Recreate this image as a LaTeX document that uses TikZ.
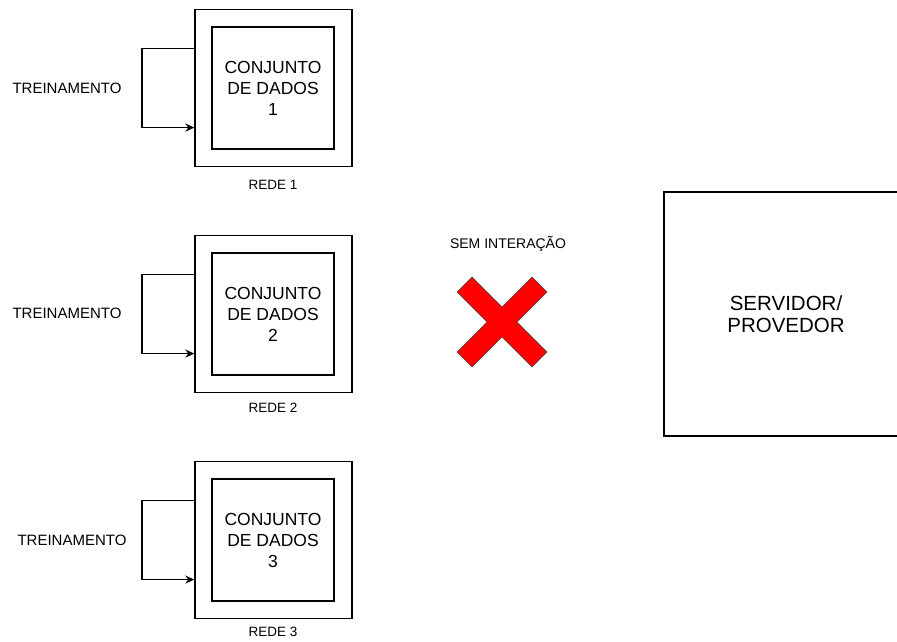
\documentclass[tikz,border=0pt]{standalone}
\usepackage{fontspec}
\setmainfont{Liberation Sans}
\usetikzlibrary{calc,arrows.meta}
\tikzset{
  outerbox/.style={draw, line width=1.3pt, minimum width=157pt, minimum height=157pt, inner sep=0pt},
  innerbox/.style={draw, line width=1.3pt, minimum width=122pt, minimum height=122pt, inner sep=0pt, align=center, font=\fontsize{17.5}{21}\selectfont},
  lbl/.style={font=\fontsize{15}{18}\selectfont, inner sep=0pt},
  rede/.style={font=\fontsize{13.5}{16}\selectfont, inner sep=0pt},
  loopline/.style={draw, line width=1.8pt, -{Stealth[length=9pt,width=8pt]}},
  serverbox/.style={draw, line width=1.3pt, minimum width=244pt, minimum height=244pt, align=center, font=\fontsize{20.5}{22}\selectfont},
  crossmark/.style={fill=red, draw=black!70, line width=0.5pt}
}
\begin{document}
\begin{tikzpicture}[x=1pt,y=-1pt]
\useasboundingbox (0,0) rectangle (897,642);

% block 1
\node[outerbox] (o1) at (273.5,88) {};
\node[innerbox] (i1) at (273,88) {CONJUNTO\\DE DADOS\\1};
\node[lbl] (t1) at (67,88) {TREINAMENTO};
\node[rede] (r1) at (273,185) {REDE 1};
\coordinate (a1) at ($(o1.north west)!0.25!(o1.south west)$);
\coordinate (b1) at ($(o1.north west)!0.75!(o1.south west)$);
\path[loopline] (a1) -- ++(-52,0) |- (b1);

% block 2
\node[outerbox] (o2) at (273.5,314) {};
\node[innerbox] (i2) at (273,314) {CONJUNTO\\DE DADOS\\2};
\node[lbl] (t2) at (67,313) {TREINAMENTO};
\node[rede] (r2) at (273,408) {REDE 2};
\coordinate (a2) at ($(o2.north west)!0.25!(o2.south west)$);
\coordinate (b2) at ($(o2.north west)!0.75!(o2.south west)$);
\path[loopline] (a2) -- ++(-52,0) |- (b2);

% block 3
\node[outerbox] (o3) at (273.5,540) {};
\node[innerbox] (i3) at (273,540) {CONJUNTO\\DE DADOS\\3};
\node[lbl] (t3) at (72,540) {TREINAMENTO};
\node[rede] (r3) at (273,632) {REDE 3};
\coordinate (a3) at ($(o3.north west)!0.25!(o3.south west)$);
\coordinate (b3) at ($(o3.north west)!0.75!(o3.south west)$);
\path[loopline] (a3) -- ++(-52,0) |- (b3);

% no interaction
\node[font=\fontsize{14}{16}\selectfont, inner sep=0pt] (sem) at (508,244) {SEM INTERAÇÃO};
\coordinate (xc) at (502,322);
\draw[crossmark] ($(xc)+(-45,-30)$) -- ($(xc)+(-30,-45)$) -- ($(xc)+(0,-15)$) -- ($(xc)+(30,-45)$) -- ($(xc)+(45,-30)$) -- ($(xc)+(15,0)$) -- ($(xc)+(45,30)$) -- ($(xc)+(30,45)$) -- ($(xc)+(0,15)$) -- ($(xc)+(-30,45)$) -- ($(xc)+(-45,30)$) -- ($(xc)+(-15,0)$) -- cycle;

% server (extends past the right edge)
\begin{scope}
\clip (0,0) rectangle (897,642);
\node[serverbox] (srv) at (786,314) {SERVIDOR/\\PROVEDOR};
\end{scope}
\end{tikzpicture}
\end{document}
